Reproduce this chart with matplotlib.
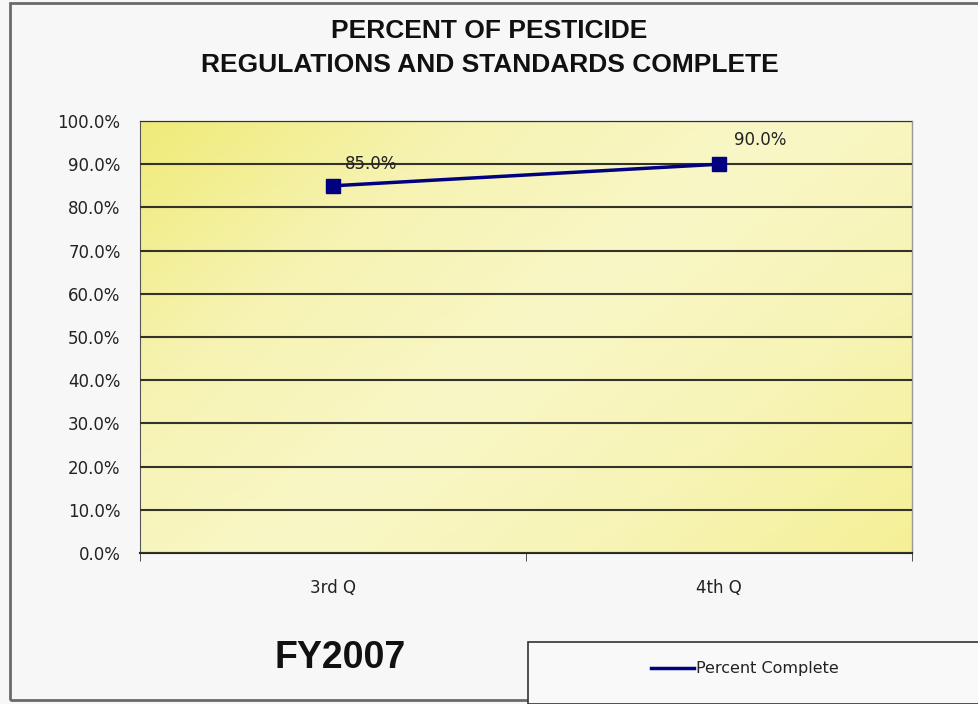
import matplotlib.pyplot as plt
import numpy as np
from matplotlib.patches import Rectangle
from matplotlib.colors import LinearSegmentedColormap

quarters = ["3rd Q", "4th Q"]
percent_complete = [85.0, 90.0]
point_labels = ["85.0%", "90.0%"]
yticks = [0, 10, 20, 30, 40, 50, 60, 70, 80, 90, 100]

fig = plt.figure(figsize=(9.79, 7.04), dpi=100)
fig.patch.set_facecolor("#f7f7f7")

# outer chart border
fig.patches.append(Rectangle((10 / 979, 4 / 704), 0.995, 0.99, transform=fig.transFigure,
                             fill=False, edgecolor="#6a6a6a", linewidth=2.0))

ax = fig.add_axes([140 / 979, 1 - 553 / 704, 772 / 979, 432 / 704])

# yellow gradient plot area (yellow corners, pale middle)
cmap = LinearSegmentedColormap.from_list("yel", ["#f0eb78", "#f6f3b2", "#f9f7c6", "#f7f4b6", "#f5f096"])
xx, yy = np.meshgrid(np.linspace(0, 1, 200), np.linspace(0, 1, 200))
grad = 0.6 * xx + 0.4 * (1 - yy)
ax.imshow(grad, extent=[-0.5, 1.5, 0, 100], aspect="auto", cmap=cmap, zorder=0,
          origin="lower", vmin=0, vmax=1)

x = np.arange(len(quarters))
ax.plot(x, percent_complete, color="#000080", linewidth=2.5, marker="s",
        markersize=10, markerfacecolor="#000080", zorder=3)

offsets = [(0.03, 3.0), (0.04, 3.5)]
for xi, yi, lab, off in zip(x, percent_complete, point_labels, offsets):
    ax.text(xi + off[0], yi + off[1], lab, fontsize=12, color="#222222",
            ha="left", va="bottom", family="DejaVu Sans")

ax.set_xlim(-0.5, 1.5)
ax.set_ylim(0, 100)
ax.set_yticks(yticks)
ax.set_yticklabels([f"{v:.1f}%" for v in yticks], fontsize=12, family="DejaVu Sans",
                   color="#222222")
ax.set_xticks(x)
ax.set_xticklabels(quarters, fontsize=12, family="DejaVu Sans", color="#222222")
ax.set_xticks([-0.5, 0.5, 1.5], minor=True)
ax.tick_params(axis="x", which="major", length=0, pad=19)
ax.tick_params(axis="x", which="minor", length=6, color="#333333")
ax.tick_params(axis="y", length=0, pad=14)

ax.yaxis.grid(True, color="#33332a", linewidth=1.5)
ax.set_axisbelow(False)
for gl in ax.get_ygridlines():
    gl.set_zorder(1)
for s in ["top", "right"]:
    ax.spines[s].set_color("#999999")
    ax.spines[s].set_linewidth(1.0)
ax.spines["left"].set_color("#555555")
ax.spines["bottom"].set_color("#222222")
ax.spines["bottom"].set_linewidth(1.5)

fig.text(0.5, 1 - 31 / 704, "PERCENT OF PESTICIDE", ha="center", va="center",
         fontsize=19, fontweight="bold", family="Liberation Sans", color="#111111")
fig.text(0.5, 1 - 65 / 704, "REGULATIONS AND STANDARDS COMPLETE", ha="center",
         va="center", fontsize=19, fontweight="bold", family="Liberation Sans",
         color="#111111")

fig.text(340 / 979, 1 - 658 / 704, "FY2007", ha="center", va="center", fontsize=27,
         fontweight="bold", family="Liberation Sans", color="#111111")

# legend box
fig.patches.append(Rectangle((528 / 979, 0), 460 / 979, 62 / 704, transform=fig.transFigure,
                             facecolor="#f9f9f9", edgecolor="#333333", linewidth=1.2))
fig.lines.append(plt.Line2D([651 / 979, 694 / 979], [1 - 668 / 704, 1 - 668 / 704],
                            transform=fig.transFigure, color="#000080", linewidth=2.5))
fig.text(696 / 979, 1 - 668 / 704, "Percent Complete", ha="left", va="center",
         fontsize=11.5, family="DejaVu Sans", color="#222222")

fig.savefig("out.png", dpi=100, facecolor=fig.get_facecolor())
